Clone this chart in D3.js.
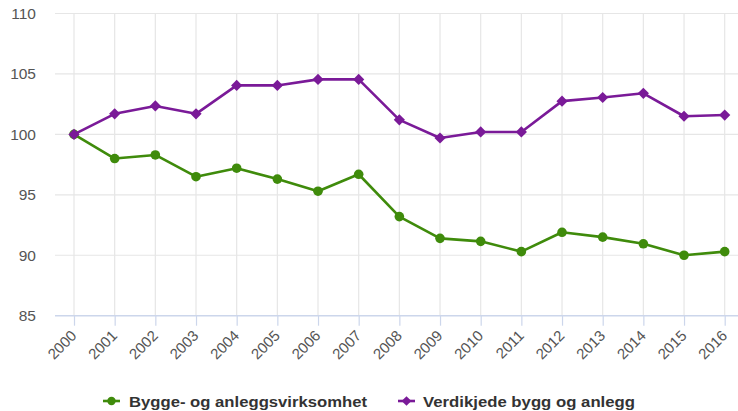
<!DOCTYPE html>
<html>
<head>
<meta charset="utf-8">
<script src="https://cdn.jsdelivr.net/npm/d3@7"></script>
<style>
body{margin:0;background:#fff;}
svg{display:block;font-family:"Liberation Sans",Arial,sans-serif;}
</style>
</head>
<body>
<svg id="c" width="738" height="411"></svg>
<script>
const years = ["2000","2001","2002","2003","2004","2005","2006","2007","2008","2009","2010","2011","2012","2013","2014","2015","2016"];
const bygge = [100,98.0,98.3,96.5,97.2,96.3,95.3,96.7,93.2,91.4,91.15,90.3,91.9,91.5,90.95,90.0,90.3];
const verdikjede = [100,101.7,102.35,101.7,104.05,104.05,104.55,104.55,101.2,99.7,100.2,100.2,102.75,103.05,103.4,101.5,101.6];
const yTicks = [85,90,95,100,105,110];
const seriesNames = ["Bygge- og anleggsvirksomhet","Verdikjede bygg og anlegg"];

const GREEN = "#3f8b0b", PURPLE = "#7a1a98";
const svg = d3.select("#c");
const plotL = 55, plotR = 738, plotT = 13.5, plotB = 315.7;

const x = d3.scalePoint().domain(years).range([74, 724.7]);
const y = d3.scaleLinear().domain([85,110]).range([plotB, plotT]);

// horizontal grid
svg.append("g").selectAll("line").data(yTicks.filter(d=>d!==85)).join("line")
  .attr("x1",plotL).attr("x2",plotR)
  .attr("y1",d=>y(d)).attr("y2",d=>y(d))
  .attr("stroke","#e6e6e6").attr("stroke-width",1.2);
// vertical grid
svg.append("g").selectAll("line").data(years).join("line")
  .attr("x1",d=>x(d)).attr("x2",d=>x(d))
  .attr("y1",plotT).attr("y2",plotB)
  .attr("stroke","#e6e6e6").attr("stroke-width",1.2);

// y axis labels
const yAxis = d3.axisLeft(y).tickValues(yTicks).tickSize(0).tickPadding(0);
const ya = svg.append("g").attr("transform",`translate(36,0)`).call(yAxis);
ya.select(".domain").remove();
ya.selectAll("text").attr("font-size","15.5px").attr("fill","#555").attr("font-family","Liberation Sans, Arial, sans-serif");

// x axis
const xAxis = d3.axisBottom(x).tickSize(10).tickPadding(4);
const xa = svg.append("g").attr("transform",`translate(0,${plotB})`).call(xAxis);
xa.select(".domain").remove();
xa.selectAll(".tick line").attr("stroke","#ccd6eb").attr("stroke-width",1.2);
xa.selectAll("text").attr("font-size","15px").attr("fill","#555")
  .attr("font-family","Liberation Sans, Arial, sans-serif")
  .attr("text-anchor","end").attr("dy",null).attr("x",0).attr("y",0)
  .attr("transform","translate(3,21) rotate(-45)");
svg.append("line").attr("x1",plotL).attr("x2",plotR).attr("y1",plotB).attr("y2",plotB)
  .attr("stroke","#ccd6eb").attr("stroke-width",1.4);

const line = d3.line().x((d,i)=>x(years[i])).y(d=>y(d));

// green series
svg.append("path").datum(bygge).attr("d",line).attr("fill","none")
  .attr("stroke",GREEN).attr("stroke-width",2.6).attr("stroke-linejoin","round");
svg.append("g").selectAll("circle").data(bygge).join("circle")
  .attr("cx",(d,i)=>x(years[i])).attr("cy",d=>y(d)).attr("r",4.8).attr("fill",GREEN);

// purple series
svg.append("path").datum(verdikjede).attr("d",line).attr("fill","none")
  .attr("stroke",PURPLE).attr("stroke-width",2.6).attr("stroke-linejoin","round");
const dia = d3.symbol().type(d3.symbolDiamond2).size(80);
svg.append("g").selectAll("path").data(verdikjede).join("path")
  .attr("d",dia).attr("transform",(d,i)=>`translate(${x(years[i])},${y(d)})`)
  .attr("fill",PURPLE);

// legend
const lg = svg.append("g").attr("transform","translate(0,401)");
const items = [{name:seriesNames[0],c:GREEN,sym:"circle",x0:103,tx:129,w:238},
               {name:seriesNames[1],c:PURPLE,sym:"diamond",x0:398,tx:423,w:212}];
items.forEach(it=>{
  lg.append("line").attr("x1",it.x0).attr("x2",it.x0+17).attr("y1",0).attr("y2",0)
    .attr("stroke",it.c).attr("stroke-width",2.6);
  if(it.sym==="circle"){
    lg.append("circle").attr("cx",it.x0+8.5).attr("cy",0).attr("r",4.2).attr("fill",it.c);
  } else {
    lg.append("path").attr("d",d3.symbol().type(d3.symbolDiamond2).size(60)())
      .attr("transform",`translate(${it.x0+8.5},0)`).attr("fill",it.c);
  }
  lg.append("text").attr("x",it.tx).attr("y",5.5).text(it.name)
    .attr("font-size","15px").attr("font-weight","bold").attr("fill","#333")
    .attr("textLength",it.w).attr("lengthAdjust","spacingAndGlyphs");
});
</script>
</body>
</html>
